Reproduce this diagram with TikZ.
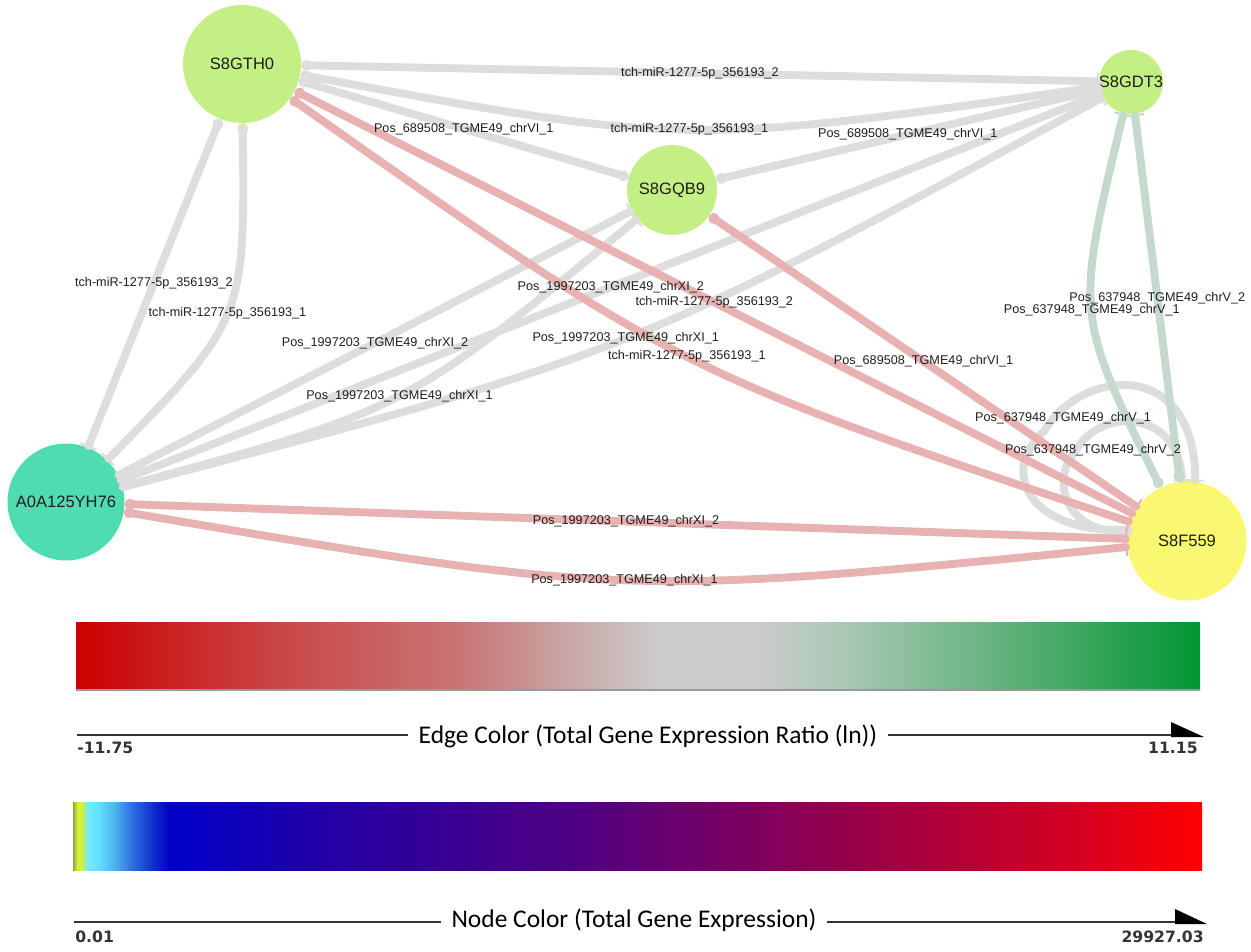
\documentclass[tikz,border=0pt]{standalone}
\usepackage{fontspec}
\setmainfont{Liberation Sans}
\newfontfamily\legendfont{Carlito}
\newfontfamily\scalefont{DejaVu Sans}
\usetikzlibrary{arrows.meta}

\definecolor{nodegreen}{HTML}{C3EF84}
\definecolor{nodeteal}{HTML}{4FDCB1}
\definecolor{nodeyellow}{HTML}{F9F870}
\definecolor{edgegray}{HTML}{DDDDDD}
\definecolor{edgepink}{HTML}{E8B2B2}
\definecolor{edgegreen}{HTML}{C5D9CC}
\definecolor{labelgray}{HTML}{1E1E1E}

% edge colour scale
\definecolor{rs0}{RGB}{204,0,0}
\definecolor{rs1}{RGB}{202,70,70}
\definecolor{rs2}{RGB}{200,120,120}
\definecolor{rs3}{RGB}{202,172,172}
\definecolor{rs4}{RGB}{204,204,204}
\definecolor{rs5}{RGB}{172,200,182}
\definecolor{rs6}{RGB}{100,178,125}
\definecolor{rs7}{RGB}{0,150,50}
\pgfdeclarehorizontalshading{ratioscale}{100bp}{color(0bp)=(rs0); color(25bp)=(rs0);
  color(34bp)=(rs1); color(42.5bp)=(rs2); color(47.5bp)=(rs3); color(51bp)=(rs4);
  color(55bp)=(rs4); color(59bp)=(rs5); color(66bp)=(rs6); color(75bp)=(rs7); color(100bp)=(rs7)}

% node colour scale
\definecolor{ns0}{RGB}{150,160,60}
\definecolor{ns1}{RGB}{212,240,60}
\definecolor{ns2}{RGB}{110,235,255}
\definecolor{ns3}{RGB}{100,225,255}
\definecolor{ns4}{RGB}{80,185,240}
\definecolor{ns5}{RGB}{50,120,225}
\definecolor{ns6}{RGB}{15,50,205}
\definecolor{ns7}{RGB}{0,0,200}
\definecolor{ns8}{RGB}{40,0,160}
\definecolor{ns9}{RGB}{80,0,130}
\definecolor{ns10}{RGB}{125,0,95}
\definecolor{ns11}{RGB}{170,0,60}
\definecolor{ns12}{RGB}{215,0,30}
\definecolor{ns13}{RGB}{255,0,0}
\pgfdeclarehorizontalshading{exprscale}{100bp}{color(0bp)=(ns0); color(25bp)=(ns0);
  color(25.2bp)=(ns1); color(25.4bp)=(ns1); color(25.65bp)=(ns2); color(26.1bp)=(ns3);
  color(26.75bp)=(ns4); color(27.5bp)=(ns5); color(28.5bp)=(ns6); color(29.25bp)=(ns7);
  color(37.5bp)=(ns8); color(47.5bp)=(ns9); color(55bp)=(ns10); color(62.5bp)=(ns11);
  color(70bp)=(ns12); color(75bp)=(ns13); color(100bp)=(ns13)}

\tikzset{
  gene/.style={circle, inner sep=0pt},
  every label/.append style={font=\fontsize{9.4}{11}\selectfont, text=labelgray},
  lnk/.style={line width=4.5pt, line cap=round},
  elab/.style={font=\fontsize{7.2}{8}\selectfont, text=labelgray, inner sep=0pt},
  dotbar/.style={arrows={Circle[length=6pt]-Bar[width=10pt,line width=1.2pt]}},
  dotdot/.style={arrows={Circle[length=6pt]-Circle[length=6pt]}},
  todot/.style={arrows={-Circle[length=6pt]}},
  tobar/.style={arrows={-Bar[width=10pt,line width=1.2pt]}},
  bardot/.style={arrows={Bar[width=10pt,line width=1.2pt]-Circle[length=6pt]}},
  legtext/.style={font=\legendfont\fontsize{14.5}{17}\selectfont, inner xsep=6pt, inner ysep=0pt},
  scaletext/.style={font=\scalefont\bfseries\fontsize{8.9}{10}\selectfont, text=black!80, inner sep=0pt},
  scaleline/.style={line width=1.4pt, black!80}
}

\begin{document}
\begin{tikzpicture}[x=0.02cm,y=-0.02cm]
\useasboundingbox (0,0) rectangle (1251,951);

% genes
\node[gene, fill=nodegreen, minimum size=2.36cm, label=center:S8GTH0] (gth) at (242,64) {};
\node[gene, fill=nodegreen, minimum size=1.8cm, label=center:S8GQB9] (gqb) at (672,190) {};
\node[gene, fill=nodegreen, minimum size=1.28cm, label=center:S8GDT3] (gdt) at (1131,82) {};
\node[gene, fill=nodeteal, minimum size=2.34cm, label=center:A0A125YH76] (a0a) at (66,502) {};
\node[gene, fill=nodeyellow, minimum size=2.38cm, label=center:S8F559] (f559) at (1187,541) {};

% gray edges
\draw[lnk, edgegray, dotbar] (gth) -- (gdt) coordinate[midway] (m1);
\draw[lnk, edgegray, dotbar] (gth) .. controls (686,146) .. (gdt) coordinate[midway] (m2);
\draw[lnk, edgegray, dotdot] (gth) -- (gqb) coordinate[midway] (m3);
\draw[lnk, edgegray, todot] (gdt) -- (gqb) coordinate[midway] (m4);
\draw[lnk, edgegray, dotbar] (gth) .. controls (245,320) .. (a0a) coordinate[midway] (m6);
\draw[lnk, edgegray, dotbar] (gth) -- (a0a) coordinate[midway] (m5);
\draw[lnk, edgegray, tobar] (a0a) -- (gqb) coordinate[midway] (m7);
\draw[lnk, edgegray, tobar] (a0a) .. controls (406,410) .. (gqb) coordinate[midway] (m8);
\draw[lnk, edgegray, tobar] (a0a) -- (gdt) coordinate[midway] (m9);
\draw[lnk, edgegray, tobar] (a0a) .. controls (630,354) .. (gdt) coordinate[midway] (m10);

% self loops on S8F559
\draw[lnk, edgegray, tobar] (f559.169) .. controls (1035,535) and (995,475) .. (1045,430)
   .. controls (1080,370) and (1195,355) .. (f559.82);
\draw[lnk, edgegray, tobar] (f559.171) .. controls (1065,535) and (1050,480) .. (1075,452)
   .. controls (1100,405) and (1180,410) .. (f559.95);

% pink edges
\draw[lnk, edgepink, dotbar] (a0a) -- (f559) coordinate[midway] (m11);
\draw[lnk, edgepink, dotbar] (a0a) .. controls (624,597) .. (f559) coordinate[midway] (m12);
\draw[lnk, edgepink, dotbar] (gth) -- (f559) coordinate[midway] (m13);
\draw[lnk, edgepink, dotbar] (gth) .. controls (679,372) .. (f559) coordinate[midway] (m14);
\draw[lnk, edgepink, dotbar] (gqb) -- (f559) coordinate[midway] (m15);

% green edges
\draw[lnk, edgegreen, bardot] (gdt) -- (f559) coordinate[midway] (m16);
\draw[lnk, edgegreen, bardot] (gdt) .. controls (1075,314) .. (f559) coordinate[midway] (m17);

% edge labels
\node[elab] at (m1) {tch-miR-1277-5p\_356193\_2};
\node[elab] at (m2) {tch-miR-1277-5p\_356193\_1};
\node[elab] at (m3) {Pos\_689508\_TGME49\_chrVI\_1};
\node[elab] at (m4) {Pos\_689508\_TGME49\_chrVI\_1};
\node[elab] at (m5) {tch-miR-1277-5p\_356193\_2};
\node[elab] at (m6) {tch-miR-1277-5p\_356193\_1};
\node[elab] at (m7) {Pos\_1997203\_TGME49\_chrXI\_2};
\node[elab] at (m8) {Pos\_1997203\_TGME49\_chrXI\_1};
\node[elab] at (m9) {Pos\_1997203\_TGME49\_chrXI\_2};
\node[elab] at (m10) {Pos\_1997203\_TGME49\_chrXI\_1};
\node[elab] at (m11) {Pos\_1997203\_TGME49\_chrXI\_2};
\node[elab] at (m12) {Pos\_1997203\_TGME49\_chrXI\_1};
\node[elab] at (m13) {tch-miR-1277-5p\_356193\_2};
\node[elab] at (m14) {tch-miR-1277-5p\_356193\_1};
\node[elab] at (m15) {Pos\_689508\_TGME49\_chrVI\_1};
\node[elab] at (m16) {Pos\_637948\_TGME49\_chrV\_2};
\node[elab] at (m17) {Pos\_637948\_TGME49\_chrV\_1};
\node[elab] at (1063,418) {Pos\_637948\_TGME49\_chrV\_1};
\node[elab] at (1093,450) {Pos\_637948\_TGME49\_chrV\_2};

% legend: edge colour
\shade[shading=ratioscale] (76,622) rectangle (1200,690);
\draw[gray!80, line width=0.9pt] (76,690) -- (1200,690);
\node[legtext] (ratiolab) at (648,736) {Edge Color (Total Gene Expression Ratio (ln))};
\coordinate (r0) at (77,735);
\coordinate (r1) at (1172,735);
\draw[scaleline] (r0) -- (r0 -| ratiolab.west);
\draw[scaleline] (r1 -| ratiolab.east) -- (r1);
\fill[black] (1171,722) -- (1204,737) -- (1171,737) -- cycle;
\node[scaletext, anchor=north west] at (77,742) {-11.75};
\node[scaletext, anchor=north east] at (1198,742) {11.15};

% legend: node colour
\shade[shading=exprscale] (73,802) rectangle (1202,870);
\node[legtext] (exprlab) at (634,920) {Node Color (Total Gene Expression)};
\coordinate (n0) at (74,922);
\coordinate (n1) at (1176,922);
\draw[scaleline] (n0) -- (n0 -| exprlab.west);
\draw[scaleline] (n1 -| exprlab.east) -- (n1);
\fill[black] (1175,909) -- (1207,924) -- (1175,924) -- cycle;
\node[scaletext, anchor=north west] at (75,931) {0.01};
\node[scaletext, anchor=north east] at (1204,931) {29927.03};
\end{tikzpicture}
\end{document}
